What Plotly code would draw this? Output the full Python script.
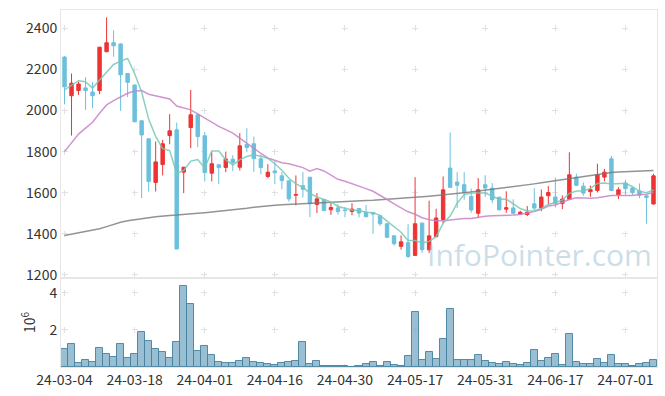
import plotly.graph_objects as go

dates = [
    "24-03-04","24-03-05","24-03-06","24-03-07","24-03-08","24-03-11","24-03-12","24-03-13","24-03-14","24-03-15",
    "24-03-18","24-03-19","24-03-20","24-03-21","24-03-22","24-03-25","24-03-26","24-03-27","24-03-28","24-03-29",
    "24-04-01","24-04-02","24-04-03","24-04-04","24-04-05","24-04-08","24-04-09","24-04-11","24-04-12","24-04-15",
    "24-04-16","24-04-17","24-04-18","24-04-19","24-04-22","24-04-23","24-04-24","24-04-25","24-04-26","24-04-29",
    "24-04-30","24-05-02","24-05-03","24-05-07","24-05-08","24-05-09","24-05-10","24-05-13","24-05-14","24-05-16",
    "24-05-17","24-05-20","24-05-21","24-05-22","24-05-23","24-05-24","24-05-27","24-05-28","24-05-29","24-05-30",
    "24-05-31","24-06-03","24-06-04","24-06-05","24-06-07","24-06-10","24-06-11","24-06-12","24-06-13","24-06-14",
    "24-06-17","24-06-18","24-06-19","24-06-20","24-06-21","24-06-24","24-06-25","24-06-26","24-06-27","24-06-28",
    "24-07-01","24-07-02","24-07-03","24-07-04","24-07-05",
]

open_ = [2260,2072,2097,2110,2090,2097,2286,2330,2324,2180,
         2124,1950,1862,1650,1737,1878,1906,1700,1917,1979,
         1877,1695,1736,1723,1763,1724,1835,1838,1765,1679,
         1706,1682,1658,1588,1634,1675,1543,1567,1517,1526,
         1516,1509,1523,1505,1503,1488,1449,1390,1339,1357,
         1295,1452,1322,1386,1470,1720,1652,1639,1582,1500,
         1639,1622,1578,1520,1526,1497,1494,1546,1526,1585,
         1579,1547,1568,1676,1632,1605,1611,1676,1765,1590,
         1647,1623,1609,1585,1545]
high = [2265,2180,2140,2162,2139,2310,2453,2390,2326,2182,
        2126,1952,1864,1849,1857,1982,1941,1726,2100,1981,
        1895,1800,1738,1800,1783,1890,1914,1873,1784,1739,
        1754,1700,1660,1684,1700,1678,1598,1570,1555,1545,
        1530,1549,1525,1540,1505,1490,1451,1392,1392,1447,
        1676,1455,1561,1522,1679,1893,1700,1700,1620,1671,
        1685,1647,1580,1607,1568,1512,1535,1622,1616,1632,
        1674,1587,1797,1692,1650,1635,1741,1716,1779,1627,
        1663,1625,1645,1587,1692]
low = [2030,1878,2076,2003,2011,2079,2284,2262,1998,2065,
       1943,1574,1606,1606,1684,1836,1326,1598,1817,1822,
       1655,1655,1642,1700,1705,1708,1797,1702,1690,1671,
       1642,1617,1557,1538,1577,1481,1501,1512,1492,1493,
       1481,1490,1480,1481,1400,1439,1380,1342,1323,1282,
       1293,1307,1307,1384,1449,1624,1525,1566,1503,1477,
       1580,1549,1514,1502,1497,1494,1486,1510,1510,1543,
       1528,1520,1566,1632,1585,1580,1601,1655,1609,1569,
       1590,1590,1573,1449,1543]
close = [2115,2133,2129,2097,2072,2308,2330,2315,2174,2137,
         1945,1881,1655,1750,1838,1901,1326,1724,1979,1873,
         1698,1741,1723,1764,1747,1828,1820,1766,1723,1700,
         1697,1659,1570,1591,1617,1546,1570,1513,1528,1508,
         1513,1520,1501,1483,1496,1449,1383,1352,1361,1290,
         1449,1323,1390,1477,1614,1626,1636,1601,1516,1614,
         1623,1566,1517,1527,1500,1505,1505,1525,1579,1601,
         1548,1569,1687,1636,1598,1615,1687,1700,1611,1614,
         1620,1600,1588,1577,1682]

# moving averages
ma5 = [2100,2122,2145,2140,2109,2148,2187,2224,2240,2253,
       2180,2090,1958,1874,1814,1805,1694,1708,1754,1761,
       1720,1803,1803,1760,1735,1761,1776,1785,1777,1767,
       1741,1709,1670,1643,1627,1597,1579,1567,1555,1533,
       1526,1516,1514,1505,1503,1490,1462,1433,1408,1367,
       1367,1355,1363,1386,1451,1486,1549,1591,1599,1599,
       1598,1584,1567,1569,1547,1523,1511,1512,1523,1543,
       1552,1564,1597,1608,1608,1621,1645,1647,1642,1645,
       1646,1629,1607,1600,1613]
ma20 = [1800,1841,1885,1914,1943,1987,2027,2048,2068,2084,
        2095,2097,2079,2071,2065,2056,2022,2011,2003,1984,
        1963,1944,1923,1907,1890,1866,1841,1814,1791,1769,
        1757,1746,1741,1733,1722,1705,1717,1706,1684,1665,
        1656,1645,1634,1620,1607,1589,1567,1546,1528,1507,
        1495,1478,1469,1463,1463,1467,1471,1475,1474,1480,
        1485,1488,1488,1491,1491,1494,1500,1508,1519,1535,
        1540,1552,1567,1575,1574,1573,1576,1581,1586,1586,
        1586,1587,1591,1593,1602]
ma60 = [1392,1398,1404,1411,1418,1425,1435,1446,1456,1463,
        1469,1474,1478,1483,1487,1489,1491,1493,1496,1500,
        1503,1506,1509,1512,1515,1519,1524,1529,1533,1536,
        1539,1541,1543,1545,1547,1549,1551,1552,1554,1555,
        1557,1559,1560,1562,1563,1565,1567,1569,1571,1574,
        1577,1580,1583,1586,1589,1592,1596,1600,1604,1608,
        1612,1616,1620,1624,1629,1634,1638,1643,1648,1653,
        1658,1663,1668,1673,1679,1685,1690,1694,1698,1701,
        1703,1705,1706,1707,1708]

volume = [0.99,1.26,0.22,0.39,0.29,1.03,0.72,0.56,1.26,0.50,
          0.72,1.91,1.42,0.99,0.83,0.50,1.37,4.39,3.42,0.88,
          1.15,0.66,0.29,0.23,0.23,0.34,0.50,0.29,0.23,0.18,
          0.12,0.23,0.29,0.34,1.37,0.18,0.34,0.07,0.07,0.07,
          0.07,0.02,0.07,0.18,0.29,0.07,0.29,0.12,0.07,0.61,
          2.99,0.39,0.83,0.45,1.53,3.15,0.39,0.39,0.39,0.66,
          0.34,0.23,0.18,0.29,0.18,0.12,0.23,0.94,0.34,0.50,
          0.72,0.12,1.80,0.29,0.18,0.18,0.45,0.23,0.66,0.18,
          0.18,0.07,0.18,0.23,0.39]

tick_idx = list(range(0, len(dates), 10))
tick_vals = [dates[i] for i in tick_idx]
tick_labels = [dates[i] for i in tick_idx]
price_ticks = [1200, 1400, 1600, 1800, 2000, 2200, 2400]
vol_ticks = [2, 4]

RED = "#ee3333"
BLUE = "#6cc0dc"
FONT = "Noto Sans CJK KR"

fig = go.Figure()

fig.add_trace(go.Scatter(x=dates, y=ma60, mode="lines", line=dict(color="rgba(120,120,120,0.8)", width=1.5),
                         xaxis="x", yaxis="y", hoverinfo="skip"))
fig.add_trace(go.Scatter(x=dates, y=ma20, mode="lines", line=dict(color="rgba(200,130,200,0.85)", width=1.5),
                         xaxis="x", yaxis="y", hoverinfo="skip"))
fig.add_trace(go.Scatter(x=dates, y=ma5, mode="lines", line=dict(color="rgba(120,200,180,0.85)", width=1.5),
                         xaxis="x", yaxis="y", hoverinfo="skip"))

fig.add_trace(go.Candlestick(
    x=dates, open=open_, high=high, low=low, close=close,
    increasing=dict(line=dict(color=RED, width=1), fillcolor=RED),
    decreasing=dict(line=dict(color=BLUE, width=1), fillcolor=BLUE),
    whiskerwidth=0, xaxis="x", yaxis="y",
))

fig.add_trace(go.Bar(x=dates, y=volume, xaxis="x2", yaxis="y2",
                     marker=dict(color="rgba(120,170,195,0.75)", line=dict(color="rgba(70,130,160,0.9)", width=1))))

grid_h = "0px,0.5px,6px,63.5px"
common = dict(showgrid=True, gridcolor="#e0e0e0", gridwidth=1, showline=True, linecolor="#e6e6e6",
              mirror=True, ticks="", zeroline=False, automargin=False)

fig.update_layout(
    width=665, height=396,
    margin=dict(l=61, r=8, t=10, b=29, autoexpand=False),
    paper_bgcolor="white", plot_bgcolor="white",
    showlegend=False,
    bargap=0,
    font=dict(family=FONT, size=13, color="#333333"),
    xaxis=dict(type="category", domain=[0, 1], anchor="y", range=[-0.5, len(dates) - 0.5],
               tickvals=tick_vals, showticklabels=False, rangeslider=dict(visible=False),
               griddash="0px,15.3px,6px,19.82px", **common),
    yaxis=dict(domain=[0.2493, 1], anchor="x", range=[1185, 2489], tickvals=price_ticks,
               griddash=grid_h, tickfont=dict(size=14), **common),
    xaxis2=dict(type="category", domain=[0, 1], anchor="y2", range=[-0.5, len(dates) - 0.5],
                tickvals=tick_vals, ticktext=tick_labels, tickangle=0,
                griddash="0px,12.3px,6px,18.7px", tickfont=dict(size=14), **common),
    yaxis2=dict(domain=[0, 0.2493], anchor="x2", range=[0, 4.81],
                tickvals=vol_ticks, ticktext=[str(v) for v in vol_ticks],
                title=dict(text="10<sup>6</sup>", standoff=10, font=dict(size=14)),
                griddash=grid_h, tickfont=dict(size=14), **common),
    annotations=[dict(text="InfoPointer.com", xref="paper", yref="paper", x=0.995, y=0.251,
                      xanchor="right", yanchor="bottom", showarrow=False,
                      font=dict(family="Open Sans", size=30, color="rgba(150,188,210,0.5)"))],
)

fig.write_html("out.html", config={"displayModeBar": False},
               post_script="document.body.style.margin='0';document.body.style.overflow='hidden';")
